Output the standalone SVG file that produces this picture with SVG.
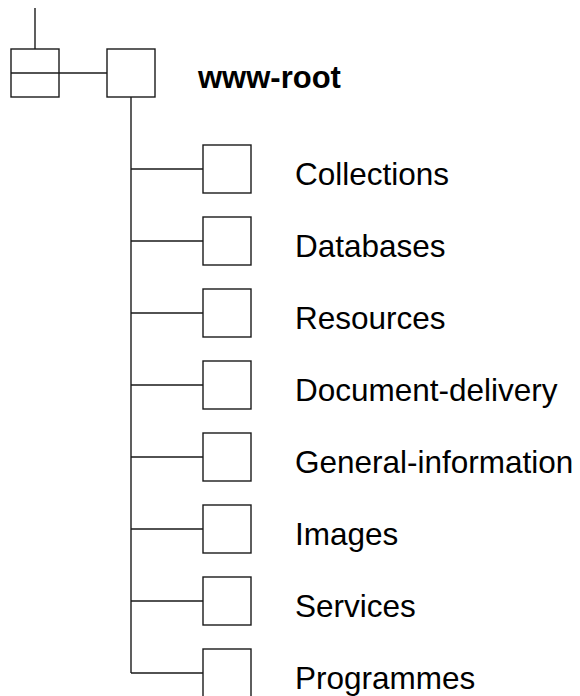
<svg xmlns="http://www.w3.org/2000/svg" width="580" height="696" viewBox="0 0 580 696">
<style>
.b{fill:#fff;stroke:#1a1a1a;stroke-width:1.4}
.c{fill:none;stroke:#1a1a1a;stroke-width:1.4}
.t{font-family:"Liberation Sans",Arial,sans-serif;font-size:31.5px;fill:#000}
.r{font-family:"Liberation Sans",Arial,sans-serif;font-size:31px;font-weight:bold;fill:#000}
</style>
<rect width="580" height="696" fill="#fff"/>
<g id="connectors">
<line class="c" x1="35" y1="8" x2="35" y2="57"/>
<line class="c" x1="59" y1="73" x2="107" y2="73"/>
<path class="c" d="M131 97V673"/>
<path class="c" d="M131 169H203M131 241H203M131 313H203M131 385H203M131 457H203M131 529H203M131 601H203M131 673H203"/>
</g>
<g id="parent"><rect class="b" x="11" y="49" width="48" height="48"/><line class="c" x1="11" y1="73" x2="59" y2="73"/></g>
<g id="www-root"><rect class="b" x="107" y="49" width="48" height="48"/><text class="r" x="198" y="88">www-root</text></g>
<g id="collections"><rect class="b" x="203" y="145" width="48" height="48"/><text class="t" x="295" y="185">Collections</text></g>
<g id="databases"><rect class="b" x="203" y="217" width="48" height="48"/><text class="t" x="295" y="257">Databases</text></g>
<g id="resources"><rect class="b" x="203" y="289" width="48" height="48"/><text class="t" x="295" y="329">Resources</text></g>
<g id="document-delivery"><rect class="b" x="203" y="361" width="48" height="48"/><text class="t" x="295" y="401">Document-delivery</text></g>
<g id="general-information"><rect class="b" x="203" y="433" width="48" height="48"/><text class="t" x="295" y="473">General-information</text></g>
<g id="images"><rect class="b" x="203" y="505" width="48" height="48"/><text class="t" x="295" y="545">Images</text></g>
<g id="services"><rect class="b" x="203" y="577" width="48" height="48"/><text class="t" x="295" y="617">Services</text></g>
<g id="programmes"><rect class="b" x="203" y="649" width="48" height="48"/><text class="t" x="295" y="689">Programmes</text></g>
</svg>
